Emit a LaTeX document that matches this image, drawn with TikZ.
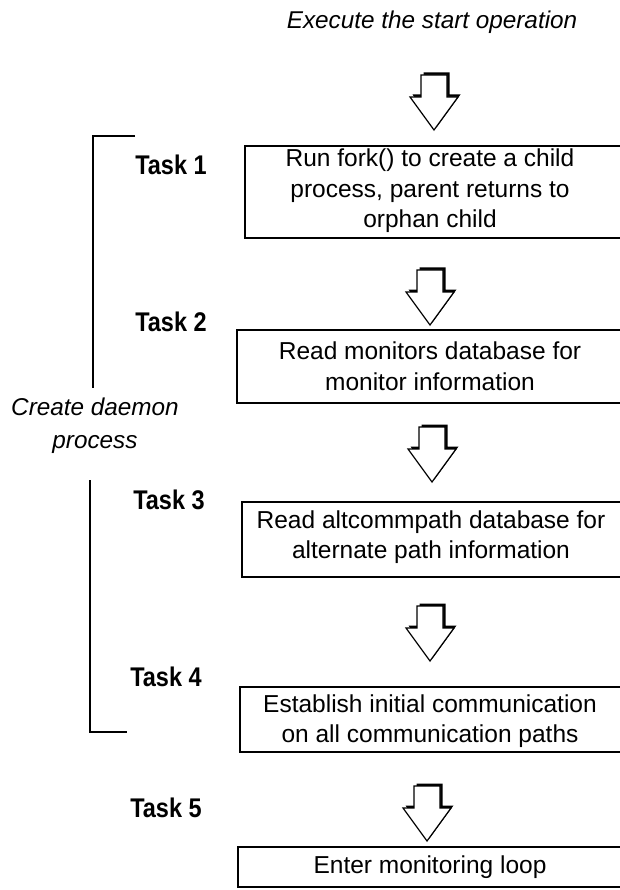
\documentclass[tikz,border=0pt]{standalone}
\usepackage{fontspec}
\setmainfont{Liberation Sans}
\begin{document}
\begin{tikzpicture}[x=1pt,y=-1pt,
  frame/.style={line width=2pt},
  brk/.style={line width=1.7pt},
  boxtext/.style={align=center, inner sep=0pt, font=\fontsize{24.5}{30.5}\selectfont},
  tasklbl/.style={inner sep=0pt, font=\fontsize{27}{30}\selectfont\bfseries},
  note/.style={inner sep=0pt, align=center, font=\fontsize{24.3}{33}\selectfont\itshape},
  blockarrow/.pic={
    \fill[black, shift={(2.5,-2.5)}] (-13,3) -- (13,3) -- (13,25) -- (24,25) -- (0,58) -- (-24,25) -- (-13,25) -- cycle;
    \filldraw[fill=white, draw=black, line width=1.2pt, line join=miter] (-13,3) -- (13,3) -- (13,25) -- (24,25) -- (0,58) -- (-24,25) -- (-13,25) -- cycle;
  }]
\useasboundingbox (0,0) rectangle (619,890);
\fill[white] (0,0) rectangle (619,890);

% title
\node[note] (start) at (432,22) {Execute the start operation};

% block arrows
\pic (a1) at (434,72) {blockarrow};
\pic (a2) at (430,267) {blockarrow};
\pic (a3) at (432,424) {blockarrow};
\pic (a4) at (430,603) {blockarrow};
\pic (a5) at (427,783) {blockarrow};

% boxes (open to the right, cut by the page edge)
\draw[frame] (630,146) -- (245,146) -- (245,238) -- (630,238);
\draw[frame] (630,330) -- (237,330) -- (237,403) -- (630,403);
\draw[frame] (630,502) -- (242,502) -- (242,577) -- (630,577);
\draw[frame] (630,687) -- (240,687) -- (240,752) -- (630,752);
\draw[frame] (630,847) -- (238,847) -- (238,887) -- (630,887);

\node[boxtext] (t1) at (430,191) {Run fork() to create a child\\process, parent returns to\\orphan child};
\node[boxtext] (t2) at (430,366) {Read monitors database for\\monitor information};
\node[boxtext] (t3) at (431,537) {Read altcommpath database for\\alternate path information};
\node[boxtext] (t4) at (430,721) {Establish initial communication\\on all communication paths};
\node[boxtext] (t5) at (430,867) {Enter monitoring loop};

% task labels
\node[tasklbl] (k1) at (171,165) {\scalebox{0.87}[1]{Task 1}};
\node[tasklbl] (k2) at (171,322) {\scalebox{0.87}[1]{Task 2}};
\node[tasklbl] (k3) at (169,500) {\scalebox{0.87}[1]{Task 3}};
\node[tasklbl] (k4) at (166,677) {\scalebox{0.87}[1]{Task 4}};
\node[tasklbl] (k5) at (166,808) {\scalebox{0.87}[1]{Task 5}};

% bracket and its label
\coordinate (bt) at (135,136);
\coordinate (bb) at (127,732);
\draw[brk] (bt) -- (93,136) -- (93,388);
\draw[brk] (90,480) -- (90,732) -- (bb);
\node[note] (daemon) at (95,426) {Create daemon\\process};
\end{tikzpicture}
\end{document}
